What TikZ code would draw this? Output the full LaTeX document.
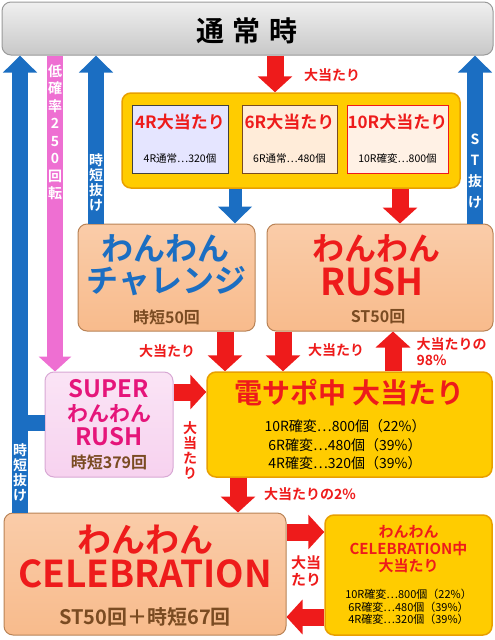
\documentclass[tikz,border=0pt]{standalone}
\usepackage{fontspec}
\setmainfont{Noto Sans CJK JP}[BoldFont={Noto Sans CJK JP Bold}]
\usepackage{xcolor}
\definecolor{wnGray}{HTML}{C8C8C8}
\definecolor{wnGrayEdge}{HTML}{9A9A9A}
\definecolor{wnYellow}{HTML}{FFCC00}
\definecolor{wnYellowEdge}{HTML}{E8A000}
\definecolor{wnPeach}{HTML}{F8BB8C}
\definecolor{wnPeachEdge}{HTML}{B98356}
\definecolor{wnPink}{HTML}{F7D2EF}
\definecolor{wnPinkEdge}{HTML}{D8A8D4}
\definecolor{wnBlue}{HTML}{1B6EC2}
\definecolor{wnRed}{HTML}{EE1B1B}
\definecolor{wnMag}{HTML}{EE6FD2}
\definecolor{wnBrown}{HTML}{7A4B22}
\definecolor{wnMagText}{HTML}{E5157A}
\usepackage{tikz}
\usetikzlibrary{calc,arrows.meta}
\newcommand{\fs}[2]{\fontsize{#1}{#2}\selectfont}

\begin{document}
\begin{tikzpicture}[x=1pt, y=-1pt,
    box/.style={rounded corners=9pt, line width=1pt, inner sep=0pt},
    peach/.style={box, draw=wnPeachEdge, top color=wnPeach!75!white, bottom color=wnPeach},
    gold/.style={box, draw=wnYellowEdge, line width=1.5pt, fill=wnYellow},
    sub/.style={draw, line width=1pt, inner sep=0pt},
    ttl/.style={font=\bfseries\fs{17}{19}, text=wnRed},
    note/.style={font=\fs{10.5}{12}},
    lbl/.style={font=\bfseries\fs{14}{16}, text=wnRed, align=center},
    vlbl/.style={font=\bfseries\fs{14}{#1}, text=white, align=center},
    rarr/.style={-{Triangle[length=16pt,width=34pt]}, line width=17pt, wnRed},
    barr/.style={-{Triangle[length=17pt,width=33pt]}, line width=16pt, wnBlue},
    parr/.style={-{Triangle[length=15pt,width=32pt]}, line width=16pt, wnMag}
  ]
    \useasboundingbox (0,0) rectangle (495,640);
    % columns and rows the arrows run on
    \coordinate (cA) at (20,0);
    \coordinate (cP) at (55,0);
    \coordinate (cB) at (96,0);
    \coordinate (cS) at (475,0);
    \coordinate (cT) at (275,0);
    \coordinate (cC) at (235,0);
    \coordinate (cR) at (400,0);
    \coordinate (cD1) at (225,0);
    \coordinate (cD2) at (283,0);
    \coordinate (cU) at (393,0);
    \coordinate (cE) at (238,0);
    \coordinate (rB) at (0,423);
    \coordinate (rS) at (0,392);
    \coordinate (rE1) at (0,532);
    \coordinate (rE2) at (0,617);
    % boxes
    \node[box, draw=wnGrayEdge, top color=gray!12, bottom color=wnGray, minimum width=491pt, minimum height=53pt] (normal) at (247.5,28.5) {};
    \node[font=\bfseries\fs{28}{30}] (normalT) at (247,31) {通\hspace{9pt}常\hspace{9pt}時};
    \node[gold, minimum width=338pt, minimum height=95pt] (grp) at (291,140.5) {};
    \node[sub, draw=black!75, fill=blue!10!white, minimum width=96pt, minimum height=68pt] (r4) at (180,139) {};
    \node[sub, draw=wnBrown, fill=orange!15!white, minimum width=95pt, minimum height=68pt] (r6) at (289.5,139) {};
    \node[sub, draw=wnRed, fill=red!8!orange!10!white, minimum width=101pt, minimum height=68pt] (r10) at (397.5,139) {};
    \node[ttl] (r4T) at (180,122) {4R大当たり};
    \node[note] (r4N) at (180,159) {4R通常…320個};
    \node[ttl] (r6T) at (289.5,122) {6R大当たり};
    \node[note] (r6N) at (289.5,159) {6R通常…480個};
    \node[ttl] (r10T) at (397.5,122) {10R大当たり};
    \node[note] (r10N) at (397.5,159) {10R確変…800個};
    \node[peach, minimum width=177pt, minimum height=107pt] (chal) at (166.5,277.5) {};
    \node[font=\bfseries\fs{32}{34}, text=wnBlue] (chalA) at (165,248) {わんわん};
    \node[font=\bfseries\fs{32}{34}, text=wnBlue] (chalB) at (166.5,281) {チャレンジ};
    \node[font=\bfseries\fs{16}{18}, text=wnBrown] (chalC) at (166.5,317) {時短50回};
    \node[peach, minimum width=226pt, minimum height=107pt] (rush) at (380,277.5) {};
    \node[font=\bfseries\fs{32}{34}, text=wnRed] (rushA) at (376,248) {わんわん};
    \node[font=\bfseries\fs{37}{39}, text=wnRed] (rushB) at (372,282) {RUSH};
    \node[font=\bfseries\fs{16}{18}, text=wnBrown] (rushC) at (378,317) {ST50回};
    \node[box, draw=wnPinkEdge, top color=wnPink!60!white, bottom color=wnPink, minimum width=128pt, minimum height=105pt] (super) at (109,424.5) {};
    \node[font=\bfseries\fs{24}{26}, text=wnMagText] (superA) at (109,389) {SUPER};
    \node[font=\bfseries\fs{21}{23}, text=wnMagText] (superB) at (109,414) {わんわん};
    \node[font=\bfseries\fs{24}{26}, text=wnMagText] (superC) at (109,437) {RUSH};
    \node[font=\bfseries\fs{16}{18}, text=wnBrown] (superD) at (109,462) {時短379回};
    \node[gold, minimum width=285pt, minimum height=105pt] (den) at (349.5,424.5) {};
    \node[font=\bfseries\fs{28}{30}, text=wnRed] (denT) at (349.5,393) {電サポ中\hspace{6pt}大当たり};
    \node[font=\fs{14}{18.5}, align=center] (denN) at (345,445) {10R確変…800個（22\%）\\6R確変…480個（39\%）\\4R確変…320個（39\%）};
    \node[peach, minimum width=282pt, minimum height=122pt] (celeb) at (145,574) {};
    \node[font=\bfseries\fs{34}{36}, text=wnRed] (celebA) at (145,540) {わんわん};
    \node[font=\bfseries\fs{37}{39}, text=wnRed] (celebB) at (145,574) {CELEBRATION};
    \node[font=\bfseries\fs{20}{22}, text=wnBrown] (celebC) at (145,617) {ST50回＋時短67回};
    \node[gold, minimum width=167pt, minimum height=120pt] (celin) at (408.5,575) {};
    \node[font=\bfseries\fs{15}{17}, text=wnRed, align=center] (celinT) at (408.5,549) {わんわん\\CELEBRATION中\\大当たり};
    \node[font=\fs{11}{12.2}, align=center] (celinN) at (408.5,607) {10R確変…800個（22\%）\\6R確変…480個（39\%）\\4R確変…320個（39\%）};
    % arrows
    \draw[barr] (cA |- celeb.north) -- (cA |- normal.south);
    \draw[line width=16pt, wnBlue] (super.west |- rB) -- (cA |- rB);
    \draw[parr] (cP |- normal.south) -- (cP |- super.north);
    \draw[barr] (cB |- chal.north) -- (cB |- normal.south);
    \draw[barr] (cS |- rush.north) -- (cS |- normal.south);
    \draw[rarr] (cT |- normal.south) -- (cT |- grp.north);
    \draw[barr, line width=13pt] (cC |- grp.south) -- (cC |- chal.north);
    \draw[rarr] (cR |- grp.south) -- (cR |- rush.north);
    \draw[rarr] (cD1 |- chal.south) -- (cD1 |- den.north);
    \draw[rarr] (cD2 |- rush.south) -- (cD2 |- den.north);
    \draw[rarr] (cU |- den.north) -- (cU |- rush.south);
    \draw[rarr] (super.east |- rS) -- (den.west |- rS);
    \draw[rarr] (cE |- den.south) -- (cE |- celeb.north);
    \draw[rarr] (celeb.east |- rE1) -- (celin.west |- rE1);
    \draw[rarr] (celin.west |- rE2) -- (celeb.east |- rE2);
    % labels
    \node[vlbl=17.5] (pinkL) at (55,132) {低\\確\\率\\2\\5\\0\\回\\転};
    \node[vlbl=15] (chalL) at (96,183) {時\\短\\抜\\け};
    \node[vlbl=21] (rushL) at (475,171) {S\\T\\抜\\け};
    \node[vlbl=15] (supL) at (20,473) {時\\短\\抜\\け};
    \node[lbl] (topL) at (332,75) {大当たり};
    \node[lbl] (chalR) at (167,351) {大当たり};
    \node[lbl] (rushR) at (336,350) {大当たり};
    \node[lbl, anchor=west, align=left] (backR) at (413,352) {大当たりの\\98\%};
    \node[lbl, font=\bfseries\fs{14}{15}] (supR) at (190,451) {大\\当\\た\\り};
    \node[lbl] (celR) at (310,494) {大当たりの2\%};
    \node[lbl, font=\bfseries\fs{15}{17}] (celinR) at (306,571) {大当\\たり};
\end{tikzpicture}
\end{document}
